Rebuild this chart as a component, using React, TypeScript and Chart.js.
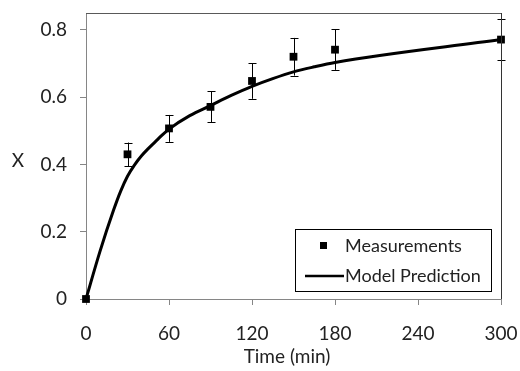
import React, { useEffect, useRef } from "react";
import { Chart, registerables } from "chart.js";

Chart.register(...registerables);

const measTime = [0, 30, 60, 90, 120, 150, 180, 300];
const measX = [0, 0.43, 0.507, 0.571, 0.648, 0.72, 0.741, 0.771];
const measErr = [0, 0.035, 0.04, 0.046, 0.053, 0.056, 0.06, 0.062];

const modelTime = [0, 10, 20, 25, 30, 35, 40, 45, 50, 55, 60, 75, 90, 105, 120, 135, 150, 165, 180, 300];
const modelX = [0, 0.14, 0.265, 0.32, 0.365, 0.398, 0.425, 0.447, 0.467, 0.487, 0.505, 0.545, 0.575, 0.605, 0.632, 0.655, 0.675, 0.69, 0.703, 0.771];

const xTicks = [0, 60, 120, 180, 240, 300];
const yTicks = [0, 0.2, 0.4, 0.6, 0.8];

const FONT = "Lato, 'Open Sans', sans-serif";
const TEXT = "#222222";

const extrasPlugin = {
  id: "extras",
  beforeDatasetsDraw(chart: any) {
    const ctx = chart.ctx;
    const xs = chart.scales.x;
    const ys = chart.scales.y;
    ctx.save();
    ctx.strokeStyle = "#000";
    ctx.lineWidth = 1;
    for (let i = 0; i < measTime.length; i++) {
      if (!measErr[i]) continue;
      const px = Math.round(xs.getPixelForValue(measTime[i])) + 0.5;
      const top = ys.getPixelForValue(measX[i] + measErr[i]);
      const bot = ys.getPixelForValue(measX[i] - measErr[i]);
      ctx.beginPath();
      ctx.moveTo(px, top);
      ctx.lineTo(px, bot);
      ctx.moveTo(px - 4, Math.round(top) + 0.5);
      ctx.lineTo(px + 4, Math.round(top) + 0.5);
      ctx.moveTo(px - 4, Math.round(bot) + 0.5);
      ctx.lineTo(px + 4, Math.round(bot) + 0.5);
      ctx.stroke();
    }
    ctx.restore();
  },
  afterDraw(chart: any) {
    const ctx = chart.ctx;
    const a = chart.chartArea;
    ctx.save();
    ctx.lineWidth = 1;
    ctx.strokeStyle = "#595959";
    ctx.beginPath();
    ctx.moveTo(a.left, Math.round(a.top) + 0.5);
    ctx.lineTo(a.right, Math.round(a.top) + 0.5);
    ctx.stroke();
    ctx.strokeStyle = "#333333";
    ctx.beginPath();
    ctx.moveTo(Math.round(a.right) + 0.5, a.top);
    ctx.lineTo(Math.round(a.right) + 0.5, a.bottom);
    ctx.stroke();

    ctx.fillStyle = TEXT;
    ctx.font = `19px ${FONT}`;
    ctx.textAlign = "center";
    ctx.textBaseline = "middle";
    ctx.fillText("X", 18, 161);
    ctx.fillText("Time (min)", 287, 357);

    ctx.font = `18px ${FONT}`;
    const lx = 295.5, ly = 229.5, lw = 196, lh = 62;
    ctx.fillStyle = "#fff";
    ctx.fillRect(lx, ly, lw, lh);
    ctx.strokeStyle = "#000";
    ctx.lineWidth = 1;
    ctx.strokeRect(lx, ly, lw, lh);
    ctx.fillStyle = "#000";
    ctx.fillRect(320, 242, 7, 7);
    ctx.lineWidth = 2.5;
    ctx.beginPath();
    ctx.moveTo(305, 276);
    ctx.lineTo(344, 276);
    ctx.stroke();
    ctx.fillStyle = TEXT;
    ctx.textAlign = "left";
    ctx.fillText("Measurements", 345, 246);
    ctx.fillText("Model Prediction", 345, 276);
    ctx.restore();
  },
};

export default function App() {
  const ref = useRef<HTMLCanvasElement>(null);
  useEffect(() => {
    document.body.style.margin = "0";
    const chart = new Chart(ref.current!, {
      type: "scatter",
      data: {
        datasets: [
          {
            label: "Measurements",
            data: measTime.map((t, i) => ({ x: t, y: measX[i] })),
            pointStyle: "rect",
            pointRadius: 5.5,
            backgroundColor: "#000",
            borderColor: "#000",
            borderWidth: 0,
            showLine: false,
            clip: false,
            order: 0,
          },
          {
            label: "Model Prediction",
            data: modelTime.map((t, i) => ({ x: t, y: modelX[i] })),
            showLine: true,
            pointRadius: 0,
            borderColor: "#000",
            borderWidth: 3,
            cubicInterpolationMode: "monotone",
            clip: false,
            order: 1,
          },
        ],
      },
      options: {
        animation: false,
        responsive: false,
        maintainAspectRatio: false,
        layout: { padding: { left: 0, top: 13, right: 19, bottom: 0 } },
        plugins: { legend: { display: false }, tooltip: { enabled: false } },
        scales: {
          x: {
            type: "linear",
            min: 0,
            max: 300,
            afterBuildTicks: (s: any) => {
              s.ticks = xTicks.map((v) => ({ value: v }));
            },
            afterFit: (s: any) => {
              s.height = 72;
              s.paddingLeft = 0;
              s.paddingRight = 0;
            },
            grid: { drawOnChartArea: false, drawTicks: true, tickLength: 6, color: "#868686" },
            border: { color: "#868686", width: 1 },
            ticks: { color: TEXT, font: { family: FONT, size: 19 }, padding: 17, maxRotation: 0 },
          },
          y: {
            type: "linear",
            min: 0,
            max: 0.85,
            afterBuildTicks: (s: any) => {
              s.ticks = yTicks.map((v) => ({ value: v }));
            },
            afterFit: (s: any) => {
              s.width = 86;
              s.paddingTop = 0;
              s.paddingBottom = 0;
            },
            grid: { drawOnChartArea: false, drawTicks: true, tickLength: 6, color: "#868686" },
            border: { color: "#868686", width: 1 },
            ticks: {
              color: TEXT,
              font: { family: FONT, size: 19 },
              padding: 13,
              callback: (v: any) => String(Number(Number(v).toFixed(2))),
            },
          },
        },
      },
      plugins: [extrasPlugin],
    });
    return () => chart.destroy();
  }, []);
  return (
    <div style={{ position: "fixed", left: 0, top: 0, width: 520, height: 371, background: "#fff" }}>
      <canvas ref={ref} width={520} height={371} style={{ width: 520, height: 371 }} />
    </div>
  );
}
